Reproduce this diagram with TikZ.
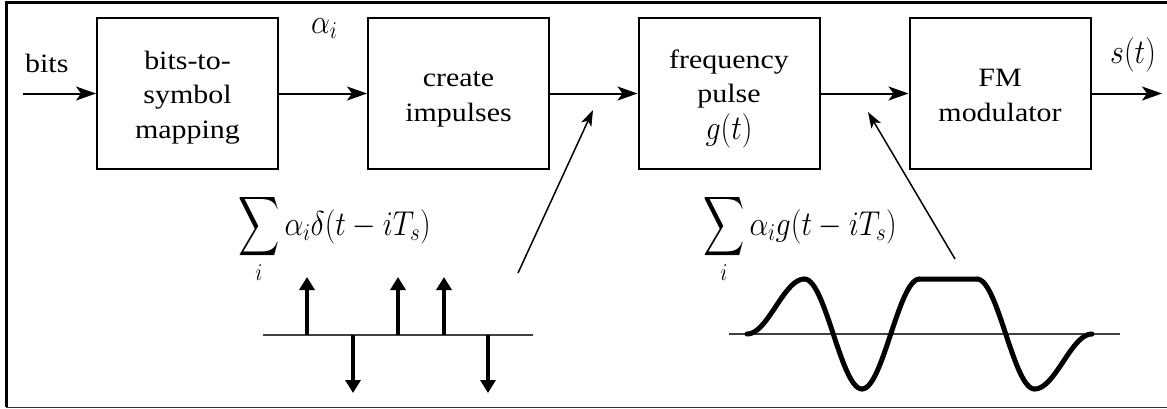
\RequirePackage{fix-cm}
\documentclass[tikz,border=0pt]{standalone}
\usepackage{amsmath}
\usepackage{fontspec}
\setmainfont{Liberation Serif}[FakeStretch=1.13]
\usepackage{graphicx}
\usetikzlibrary{arrows.meta}
\newcommand\mymath[1]{{\fontsize{30}{36}\selectfont\scalebox{1}[1.15]{$#1$}}}
\newcommand\bigsum{\mathop{\vcenter{\hbox{\scalebox{1.15}[1.45]{$\displaystyle\sum$}}}}\limits_i}
\begin{document}
\begin{tikzpicture}[x=1pt,y=-1pt,
  font=\fontsize{26.5}{34.5}\selectfont,
  blk/.style={draw,line width=2pt,minimum width=181pt,minimum height=151pt,inner sep=0pt},
  blktext/.style={align=center,inner sep=0pt},
  arr/.style={line width=2pt,-{Stealth[length=20pt,width=14pt,inset=5pt]}},
  diagarr/.style={line width=1.5pt,-{Stealth[length=16pt,width=11pt,inset=4pt]}},
  imp/.style={line width=4pt,-{Triangle[length=13pt,width=15pt]}},
  wave/.style={line width=5pt,line cap=round,line join=round},
  axisline/.style={line width=1.3pt,black!75},
  lbl/.style={inner sep=0pt,anchor=base west}]
\useasboundingbox (0,0) rectangle (1167,408);
% frame
\draw[line width=3pt] (1167,2) -- (6,2) -- (6,407);
\draw[line width=1pt,black!80] (6,407) -- (1167,407);
% blocks
\node[blk] (b1) at (187.5,93.5) {};
\node[blk] (b2) at (458.5,93.5) {};
\node[blk] (b3) at (729,93.5) {};
\node[blk] (b4) at (1000,93.5) {};
\node[blktext] (t1) at (187.5,97) {\strut bits-to-\\\strut symbol\\\strut mapping};
\node[blktext] (t2) at (458.5,97) {\strut create\\\strut impulses};
\node[blktext] (t3) at (729,97) {\strut frequency\\\strut pulse\\\strut\mymath{g(t)}};
\node[blktext] (t4) at (1000,97) {\strut FM\\\strut modulator};
\coordinate (in) at (23,93.5);
\coordinate (out) at (1162,93.5);
\draw[arr] (in) -- (b1);
\draw[arr] (b1) -- (b2);
\draw[arr] (b2) -- (b3);
\draw[arr] (b3) -- (b4);
\draw[arr] (b4) -- (out);
% labels
\node[lbl] (lbits) at (25,72) {bits};
\node[lbl] (lalpha) at (311,33) {\mymath{\alpha_i}};
\node[lbl] (ls) at (1110,63) {\mymath{s(t)}};
\node[lbl] (sum1) at (238,235) {\mymath{\bigsum \alpha_i\delta(t-iT_s)}};
\node[lbl] (sum2) at (703,235) {\mymath{\bigsum \alpha_i g(t-iT_s)}};
% diagonal arrows
\coordinate (d1s) at (518,273);
\coordinate (d1e) at (593,110);
\coordinate (d2s) at (955,259);
\coordinate (d2e) at (868,112);
\draw[diagarr] (d1s) -- (d1e);
\draw[diagarr] (d2s) -- (d2e);
% impulses
\draw[axisline] (263,335) -- (533,335);
\foreach \x in {307,398,444} {\draw[imp] (\x,335) -- (\x,277);}
\foreach \x in {353,488} {\draw[imp] (\x,335) -- (\x,393);}
% waveform
\draw[axisline] (729,334) -- (1120,334);
\foreach \k/\p/\q in {0/0/1,1/1/-1,2/-1/1,3/1/1,4/1/-1,5/-1/0} {
  \draw[wave] plot[domain=0:1,samples=30,smooth]
    ({747+57.5*(\k+\x)},{334-55*(\p*(1+cos(180*\x))/2+\q*(1-cos(180*\x))/2)});
}
\end{tikzpicture}
\end{document}
